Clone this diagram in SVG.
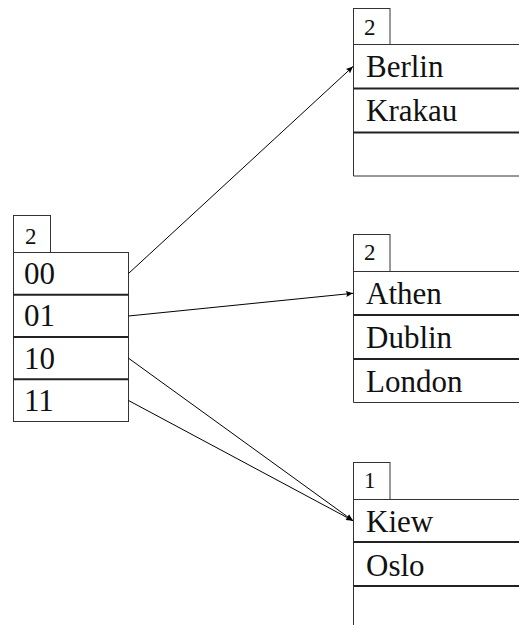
<svg xmlns="http://www.w3.org/2000/svg" width="519" height="625" viewBox="0 0 519 625">
  <style>
    .frame { fill: none; stroke: #333; stroke-width: 1; }
    .sep { stroke: #222; stroke-width: 2; }
    .thin { stroke: #333; stroke-width: 1; fill: none; }
    .lbl { font-family: "Liberation Serif", "Times New Roman", serif; font-size: 23px; fill: #111; }
    .txt { font-family: "Liberation Serif", "Times New Roman", serif; font-size: 31px; fill: #111; }
    .link { stroke: #000; stroke-width: 1; fill: none; marker-end: url(#head); }
  </style>
  <defs>
    <marker id="head" markerUnits="userSpaceOnUse" markerWidth="10" markerHeight="10" refX="0" refY="0" viewBox="-8 -4 10 8" orient="auto">
      <path d="M0,0 L-7,-3 Q-5.2,0 -7,3 Z" fill="#000"/>
    </marker>
  </defs>

  <!-- directory -->
  <g id="directory">
    <rect class="frame" x="13.5" y="215.5" width="37" height="37"/>
    <text class="lbl" x="25" y="244">2</text>
    <rect class="frame" x="13.5" y="252.5" width="115" height="169"/>
    <line class="sep" x1="13.5" y1="294.7" x2="128.5" y2="294.7"/>
    <line class="sep" x1="13.5" y1="337" x2="128.5" y2="337"/>
    <line class="sep" x1="13.5" y1="379.2" x2="128.5" y2="379.2"/>
    <text class="txt" x="24" y="284">00</text>
    <text class="txt" x="24" y="326.2">01</text>
    <text class="txt" x="24" y="368.5">10</text>
    <text class="txt" x="24" y="410.7">11</text>
  </g>

  <!-- bucket A -->
  <g id="bucket-a">
    <rect class="frame" x="353.5" y="8.5" width="36.5" height="36"/>
    <text class="lbl" x="364" y="35">2</text>
    <path class="thin" d="M530,44.5 H353.5 V176 H530"/>
    <line class="sep" x1="353.5" y1="88.5" x2="530" y2="88.5"/>
    <line class="sep" x1="353.5" y1="132.5" x2="530" y2="132.5"/>
    <text class="txt" x="366" y="77.2">Berlin</text>
    <text class="txt" x="366" y="121.2">Krakau</text>
  </g>

  <!-- bucket B -->
  <g id="bucket-b">
    <rect class="frame" x="353.5" y="234.5" width="36.5" height="37"/>
    <text class="lbl" x="364" y="260">2</text>
    <path class="thin" d="M530,271.5 H353.5 V402.5 H530"/>
    <line class="sep" x1="353.5" y1="315" x2="530" y2="315"/>
    <line class="sep" x1="353.5" y1="359" x2="530" y2="359"/>
    <text class="txt" x="366" y="304.2">Athen</text>
    <text class="txt" x="366" y="348">Dublin</text>
    <text class="txt" x="366" y="392">London</text>
  </g>

  <!-- bucket C -->
  <g id="bucket-c">
    <rect class="frame" x="353.5" y="462.5" width="36.5" height="37"/>
    <text class="lbl" x="364" y="488.3">1</text>
    <path class="thin" d="M530,499.5 H353.5 V630"/>
    <line class="sep" x1="353.5" y1="542" x2="530" y2="542"/>
    <line class="sep" x1="353.5" y1="586" x2="530" y2="586"/>
    <text class="txt" x="366" y="532">Kiew</text>
    <text class="txt" x="366" y="575.5">Oslo</text>
  </g>

  <!-- pointers from directory entries to buckets -->
  <g id="connectors">
    <line class="link" x1="128.5" y1="273.5" x2="353" y2="66.5"/>
    <line class="link" x1="128.5" y1="316" x2="353" y2="293.3"/>
    <line class="link" x1="128.5" y1="358.2" x2="353" y2="520.7"/>
    <line class="link" x1="128.5" y1="400.5" x2="353" y2="520.7"/>
  </g>
</svg>
